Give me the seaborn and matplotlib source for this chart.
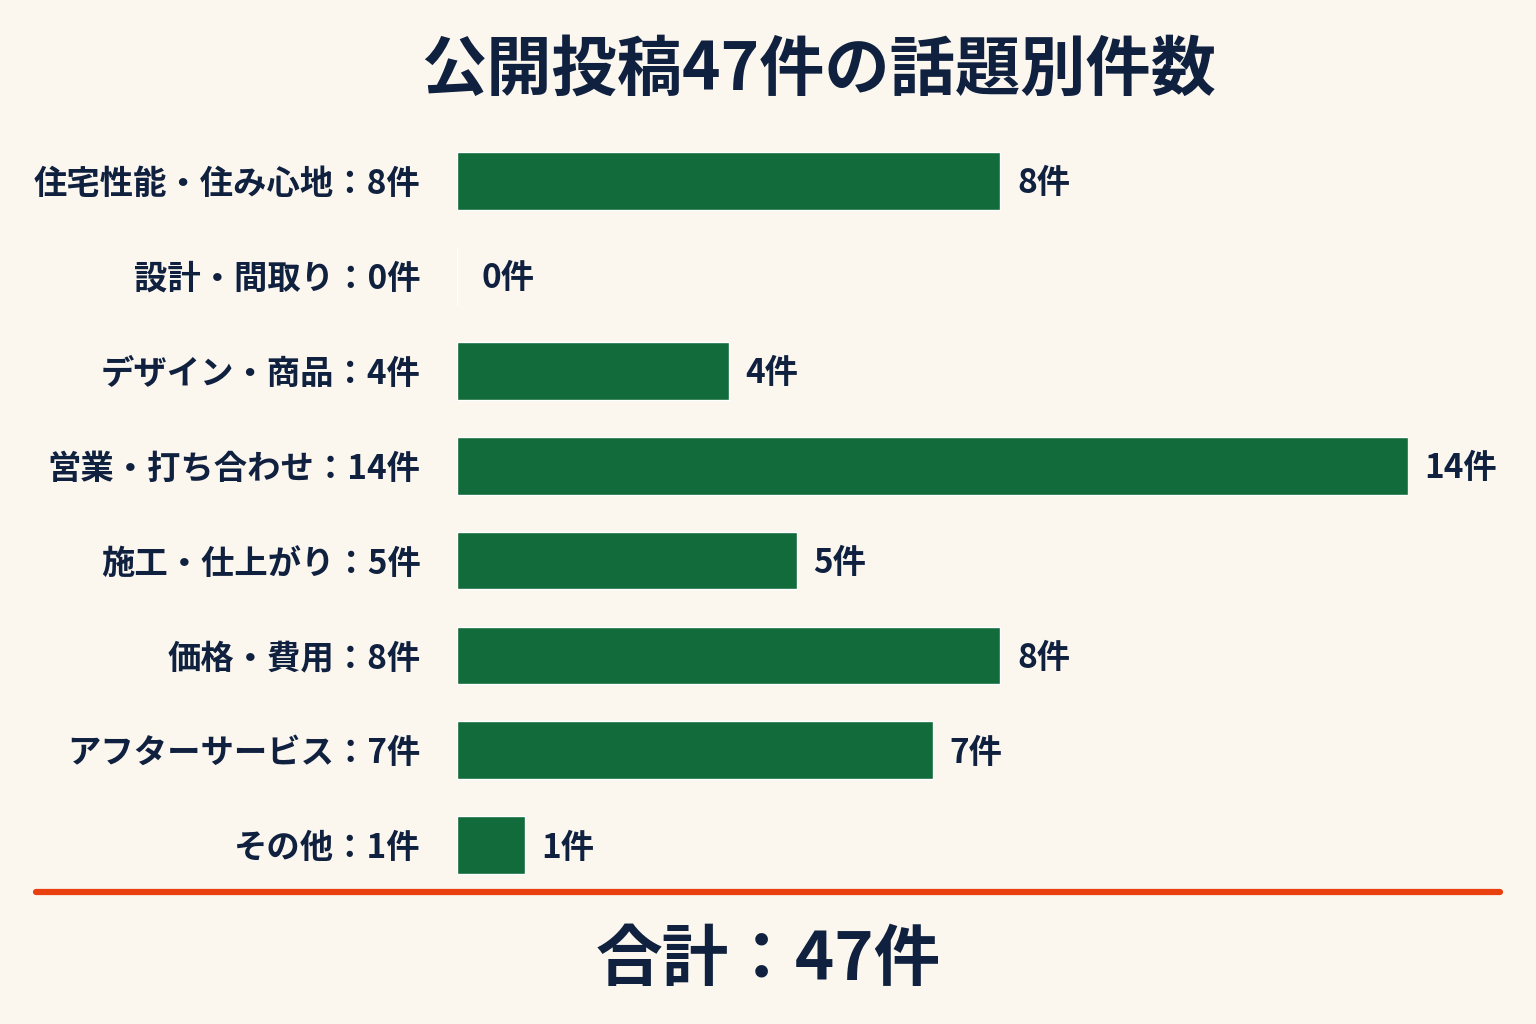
import matplotlib
matplotlib.use("Agg")
import matplotlib.pyplot as plt
import seaborn as sns
import pandas as pd

# データ
topics = ["住宅性能・住み心地", "設計・間取り", "デザイン・商品", "営業・打ち合わせ",
          "施工・仕上がり", "価格・費用", "アフターサービス", "その他"]
counts = [8, 0, 4, 14, 5, 8, 7, 1]
total = 47
title = "公開投稿47件の話題別件数"

bg = "#FBF7EF"
navy = "#10203F"
green = "#116B3A"
red = "#E8400F"

sns.set_theme(style="white")
plt.rcParams["font.family"] = ["Noto Sans CJK JP", "DejaVu Sans"]
plt.rcParams["font.weight"] = "bold"

df = pd.DataFrame({"topic": topics, "count": counts})

fig = plt.figure(figsize=(15.36, 10.24), dpi=100, facecolor=bg)
ax = fig.add_axes([0.2975, 0.128, 0.6192, 0.742])
ax.set_facecolor(bg)

sns.barplot(data=df, y="topic", x="count", orient="h", color=green,
            width=0.61, saturation=1, ax=ax)

ax.set_xlim(0, 14)
ax.set_ylim(len(topics) - 0.5, -0.5)
ax.set_xticks([])
ax.set_xlabel("")
ax.set_ylabel("")
for s in ax.spines.values():
    s.set_visible(False)

ax.set_yticks(range(len(topics)))
ax.set_yticklabels([f"{t}：{c}件" for t, c in zip(topics, counts)],
                   fontsize=24, fontweight="bold", color=navy)
ax.tick_params(axis="y", length=0, pad=26)

# 値ラベル
for i, c in enumerate(counts):
    ax.annotate(f"{c}件", xy=(c, i), xytext=(12 if c > 0 else 18, -2),
                textcoords="offset points", va="center", ha="left",
                fontsize=24, fontweight="bold", color=navy)

# タイトル
fig.text(0.533, 0.931, title, ha="center", va="center",
         fontsize=47, fontweight="bold", color=navy)

# 区切り線
fig.add_artist(plt.Line2D([36 / 1536, 1500 / 1536], [1 - 892 / 1024] * 2,
                          transform=fig.transFigure, color=red, linewidth=4.5))

# 合計
fig.text(0.5, 1 - 961 / 1024, f"合計：{total}件", ha="center", va="center",
         fontsize=48, fontweight="bold", color=navy)

fig.savefig("out.png", dpi=100, facecolor=bg)
